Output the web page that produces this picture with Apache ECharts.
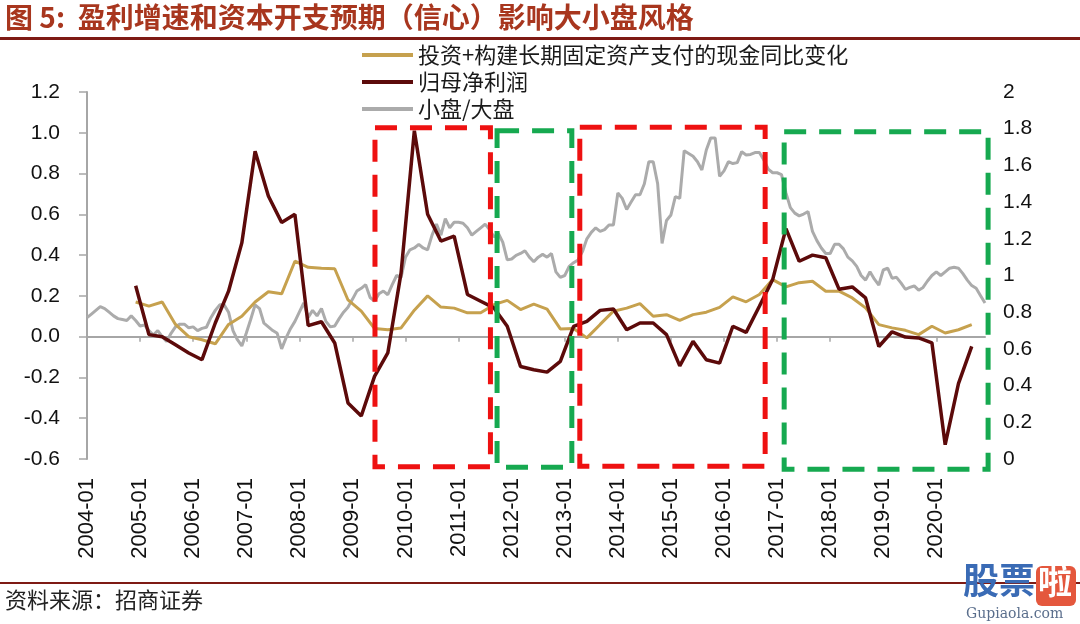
<!DOCTYPE html>
<html>
<head>
<meta charset="utf-8">
<script src="https://cdn.jsdelivr.net/npm/echarts@6/dist/echarts.min.js"></script>
<style>
html,body{margin:0;padding:0;background:#fff;}
#c{width:1080px;height:624px;}
</style>
</head>
<body>
<div id="c"></div>
<script>
// ---------- categories (monthly, 2004-01 .. 2020-12) ----------
const firstYear = 2004, lastYear = 2020;
const months = [];
for (let y = firstYear; y <= lastYear; y++) {
  for (let m = 1; m <= 12; m++) months.push(y + '-' + (m < 10 ? '0' + m : m));
}
// quarterly series start at this month, one point every 3 months
const quarterStart = '2004-12';

// ---------- series values ----------
const seriesNames = ['投资+构建长期固定资产支付的现金同比变化', '归母净利润', '小盘/大盘'];

// 投资+构建长期固定资产支付的现金同比变化 (quarterly, left axis)
const capexYoY = [
  0.17,
  0.15, 0.17, 0.06, 0.00,
  -0.015, -0.035, 0.06, 0.10,
  0.17, 0.22, 0.21, 0.37,
  0.34, 0.335, 0.333, 0.18,
  0.125, 0.04, 0.034, 0.043,
  0.13, 0.20, 0.145, 0.14,
  0.117, 0.117, 0.157, 0.178,
  0.133, 0.16, 0.135, 0.038,
  0.04, -0.006, 0.06, 0.125,
  0.14, 0.162, 0.10, 0.108,
  0.08, 0.108, 0.12, 0.144,
  0.195, 0.171, 0.207, 0.28,
  0.244, 0.265, 0.272, 0.223,
  0.223, 0.19, 0.141, 0.059,
  0.043, 0.031, 0.01, 0.051,
  0.018, 0.034, 0.059
];

// 归母净利润 (quarterly, left axis)
const netProfitYoY = [
  0.25,
  0.01, 0.00, -0.04, -0.08,
  -0.113, 0.067, 0.223, 0.46,
  0.91, 0.69, 0.56, 0.60,
  0.054, 0.073, -0.031, -0.325,
  -0.389, -0.195, -0.08, 0.313,
  1.01, 0.60, 0.469, 0.493,
  0.207, 0.174, 0.141, 0.051,
  -0.146, -0.162, -0.174, -0.121,
  0.051, 0.075, 0.129, 0.136,
  0.034, 0.067, 0.067, 0.01,
  -0.143, -0.023, -0.113, -0.13,
  0.051, 0.021, 0.149, 0.28,
  0.53, 0.37, 0.40, 0.387,
  0.233, 0.244, 0.19, -0.048,
  0.024, -0.002, -0.006, -0.03,
  -0.53, -0.23, -0.048
];

// 小盘/大盘 (monthly, right axis)
const smallLargeRatio = [
  0.77, 0.79, 0.81, 0.83, 0.82, 0.80, 0.78, 0.765, 0.76, 0.755, 0.78, 0.755,
  0.725, 0.73, 0.70, 0.676, 0.70, 0.667, 0.64, 0.685, 0.72, 0.735, 0.735, 0.715,
  0.72, 0.70, 0.712, 0.718, 0.77, 0.81, 0.84, 0.84, 0.80, 0.70, 0.65, 0.616,
  0.685, 0.76, 0.84, 0.82, 0.74, 0.72, 0.70, 0.685, 0.60, 0.66, 0.71, 0.75,
  0.80, 0.85, 0.772, 0.81, 0.78, 0.82, 0.75, 0.72, 0.725, 0.765, 0.80, 0.827,
  0.87, 0.915, 0.93, 0.95, 0.88, 0.86, 0.90, 0.915, 0.895, 0.95, 1.0, 0.99,
  1.10, 1.14, 1.15, 1.17, 1.15, 1.14, 1.22, 1.28, 1.22, 1.31, 1.26, 1.29,
  1.29, 1.285, 1.26, 1.22, 1.24, 1.26, 1.28, 1.25, 1.21, 1.23, 1.18, 1.085,
  1.09, 1.11, 1.12, 1.135, 1.10, 1.075, 1.10, 1.115, 1.10, 1.12, 1.02, 0.99,
  1.00, 1.05, 1.07, 1.085, 1.13, 1.20, 1.235, 1.26, 1.24, 1.25, 1.275, 1.275,
  1.45, 1.42, 1.36, 1.40, 1.44, 1.44, 1.50, 1.62, 1.62, 1.50, 1.175, 1.30,
  1.33, 1.43, 1.42, 1.68, 1.665, 1.65, 1.62, 1.575, 1.684, 1.75, 1.75, 1.54,
  1.57, 1.62, 1.61, 1.615, 1.675, 1.657, 1.66, 1.67, 1.67, 1.63, 1.58, 1.56,
  1.56, 1.55, 1.45, 1.37, 1.34, 1.325, 1.335, 1.348, 1.24, 1.19, 1.15, 1.12,
  1.12, 1.17, 1.17, 1.145, 1.10, 1.08, 1.05, 1.00, 0.975, 1.02, 0.98, 0.948,
  1.03, 1.04, 0.985, 0.99, 0.96, 0.925, 0.935, 0.943, 0.92, 0.935, 0.97, 1.00,
  1.02, 1.00, 1.02, 1.04, 1.045, 1.04, 1.01, 0.975, 0.945, 0.93, 0.89, 0.85
];

// axis ranges / ticks
const leftAxis = { min: -0.6, max: 1.2, interval: 0.2 };
const rightAxis = { min: 0, max: 2, interval: 0.2 };

// dashed annotation boxes: month offset from 2004-01 (fractional) and left-axis values
const boxes = [
  { from: 65.1, to: 91.2, top: 1.025, bottom: -0.638, color: '#EE1111' },
  { from: 92.7, to: 109.6, top: 1.01, bottom: -0.64, color: '#16A950' },
  { from: 111.4, to: 153.3, top: 1.027, bottom: -0.635, color: '#EE1111' },
  { from: 157.6, to: 203.7, top: 1.005, bottom: -0.65, color: '#16A950' }
];

// ---------- build chart ----------
const qStartIdx = months.indexOf(quarterStart);
const toQuarterPairs = arr => arr.map((v, i) => [months[qStartIdx + 3 * i], v]);
const isJan = (idx, val) => /-01$/.test(val);

const COLORS = { capex: '#C6A14E', profit: '#5C0A0A', ratio: '#ABABAB', axis: '#A6A6A6' };

const chart = echarts.init(document.getElementById('c'), null, { renderer: 'canvas' });

const option = {
  animation: false,
  backgroundColor: '#ffffff',
  textStyle: { fontFamily: '"Liberation Sans", Arial, sans-serif' },
  legend: {
    orient: 'vertical',
    left: 362,
    top: 44,
    padding: 0,
    itemWidth: 51,
    itemHeight: 4,
    itemGap: 5,
    icon: 'rect',
    data: seriesNames,
    textStyle: { fontFamily: '"Noto Sans CJK SC", sans-serif', fontSize: 22, color: '#1a1a1a' }
  },
  grid: { left: 87, right: 95, top: 92, bottom: 165, containLabel: false },
  xAxis: [
    {
      type: 'category', data: months, boundaryGap: false,
      axisLine: { show: true, onZero: true, onZeroAxisIndex: 0, lineStyle: { color: COLORS.axis, width: 2 } },
      axisTick: { show: true, interval: isJan, length: 5, lineStyle: { color: COLORS.axis, width: 1.5 } },
      axisLabel: { show: false },
      splitLine: { show: false }
    },
    {
      type: 'category', data: months, boundaryGap: false, position: 'bottom',
      axisLine: { show: false, onZero: false },
      axisTick: { show: false },
      axisLabel: { interval: isJan, rotate: 90, margin: 19, fontSize: 22, color: '#111' },
      splitLine: { show: false }
    }
  ],
  yAxis: [
    {
      type: 'value', position: 'left', min: leftAxis.min, max: leftAxis.max, interval: leftAxis.interval,
      axisLine: { show: true, onZero: false, lineStyle: { color: COLORS.axis, width: 2 } },
      axisTick: { show: true, length: 8, lineStyle: { color: COLORS.axis, width: 1.5 } },
      axisLabel: { fontSize: 21, margin: 27, color: '#111', formatter: v => v.toFixed(1) },
      splitLine: { show: false }
    },
    {
      type: 'value', position: 'right', min: rightAxis.min, max: rightAxis.max, interval: rightAxis.interval,
      axisLine: { show: false, onZero: false },
      axisTick: { show: false },
      axisLabel: { fontSize: 21, margin: 18, color: '#111', formatter: v => String(parseFloat(v.toFixed(1))) },
      splitLine: { show: false }
    }
  ],
  series: [
    {
      name: seriesNames[0], type: 'line', xAxisIndex: 0, yAxisIndex: 0,
      data: toQuarterPairs(capexYoY), showSymbol: false, symbol: 'none', z: 3,
      lineStyle: { color: COLORS.capex, width: 3 }, itemStyle: { color: COLORS.capex }
    },
    {
      name: seriesNames[1], type: 'line', xAxisIndex: 0, yAxisIndex: 0,
      data: toQuarterPairs(netProfitYoY), showSymbol: false, symbol: 'none', z: 4,
      lineStyle: { color: COLORS.profit, width: 3.5 }, itemStyle: { color: COLORS.profit }
    },
    {
      name: seriesNames[2], type: 'line', xAxisIndex: 0, yAxisIndex: 1,
      data: smallLargeRatio, showSymbol: false, symbol: 'none', z: 2,
      lineStyle: { color: COLORS.ratio, width: 3 }, itemStyle: { color: COLORS.ratio }
    }
  ],
  graphic: [
    {
      id: 'title', type: 'text', left: 5, top: 3, z: 10,
      style: {
        text: '图 5:  盈利增速和资本开支预期（信心）影响大小盘风格',
        fill: '#A8361E', font: 'bold 28px "Noto Sans CJK SC", sans-serif'
      }
    },
    { id: 'titleLine', type: 'rect', z: 10, shape: { x: 0, y: 37, width: 1080, height: 3 }, style: { fill: '#7E1A14' } },
    { id: 'footLine', type: 'rect', z: 10, shape: { x: 0, y: 582, width: 1080, height: 2 }, style: { fill: '#7E1A14' } },
    {
      id: 'source', type: 'text', left: 5, top: 589, z: 10,
      style: { text: '资料来源：招商证券', fill: '#222', font: '22px "Noto Sans CJK SC", sans-serif' }
    },
    {
      id: 'wm1', type: 'text', left: 963, top: 562, z: 11,
      style: { text: '股票', fill: '#3A6BB5', font: 'bold 36px "Noto Sans CJK SC", sans-serif' }
    },
    { id: 'wm2bg', type: 'rect', z: 11, shape: { x: 1036, y: 566, width: 40, height: 40, r: 6 }, style: { fill: '#E4573D' } },
    {
      id: 'wm2', type: 'text', left: 1038, top: 564, z: 12,
      style: { text: '啦', fill: '#ffffff', font: 'bold 34px "Noto Sans CJK SC", sans-serif' }
    },
    {
      id: 'wm3', type: 'text', left: 966, top: 607, z: 11,
      style: { text: 'Gupiaola.com', fill: '#5A6E8C', font: '14px "DejaVu Serif", serif' }
    }
  ]
};

chart.setOption(option);

// place dashed annotation boxes through the axes' own scales
const x0 = chart.convertToPixel({ xAxisIndex: 0 }, 0);
const xN = chart.convertToPixel({ xAxisIndex: 0 }, months.length - 1);
const pxPerMonth = (xN - x0) / (months.length - 1);
const yZero = chart.convertToPixel({ yAxisIndex: 0 }, 0);
const yOne = chart.convertToPixel({ yAxisIndex: 0 }, 1);
const pxPerUnit = yOne - yZero;

const boxGraphics = boxes.map((b, i) => {
  const xa = x0 + b.from * pxPerMonth, xb = x0 + b.to * pxPerMonth;
  const ya = yZero + b.top * pxPerUnit, yb = yZero + b.bottom * pxPerUnit;
  return {
    id: 'box' + i, type: 'rect', z: 20,
    shape: { x: xa, y: ya, width: xb - xa, height: yb - ya },
    style: { fill: 'none', stroke: b.color, lineWidth: 5, lineDash: [22, 13] }
  };
});
chart.setOption({ graphic: boxGraphics });
</script>
</body>
</html>
